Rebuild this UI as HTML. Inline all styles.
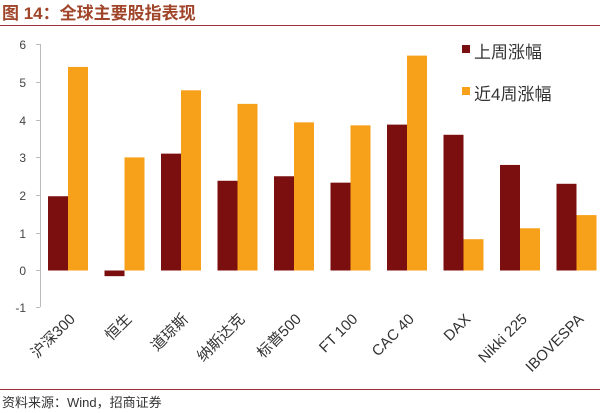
<!DOCTYPE html>
<html><head><meta charset="utf-8"><style>
body{margin:0;background:#fff}
svg{display:block;font-family:"Liberation Sans","Noto Sans CJK SC",sans-serif}
</style></head><body>
<svg width="600" height="413" viewBox="0 0 600 413">
<text x="2" y="19" font-size="17" font-weight="bold" fill="#a0452a">图 14：全球主要股指表现</text>
<line x1="0" y1="25.5" x2="600" y2="25.5" stroke="#a0303a" stroke-width="1"/>
<g font-size="12" fill="#444" text-anchor="end">
<text x="26" y="49">6</text><text x="26" y="87">5</text><text x="26" y="125">4</text>
<text x="26" y="162">3</text><text x="26" y="200">2</text><text x="26" y="238">1</text>
<text x="26" y="275">0</text><text x="26" y="312">-1</text>
</g>
<g stroke="#bbb" stroke-width="1">
<line x1="40.5" y1="44" x2="40.5" y2="307"/>
<line x1="36" y1="44.5" x2="40" y2="44.5"/><line x1="36" y1="82.5" x2="40" y2="82.5"/>
<line x1="36" y1="120.5" x2="40" y2="120.5"/><line x1="36" y1="157.5" x2="40" y2="157.5"/>
<line x1="36" y1="195.5" x2="40" y2="195.5"/><line x1="36" y1="233.5" x2="40" y2="233.5"/>
<line x1="36" y1="270.5" x2="40" y2="270.5"/><line x1="36" y1="307.5" x2="40" y2="307.5"/>
</g>
<g id="bars"></g>
<g id="labels" font-size="15" fill="#333"></g>
<rect x="462" y="45" width="8" height="8" fill="#7b0f0f"/>
<text x="474" y="58" font-size="17" fill="#333">上周涨幅</text>
<rect x="462" y="87" width="8" height="8" fill="#f7a11a"/>
<text x="474" y="100" font-size="17" fill="#333">近4周涨幅</text>
<line x1="0" y1="389.5" x2="600" y2="389.5" stroke="#a0303a" stroke-width="1"/>
<text x="2" y="407" font-size="13" fill="#333">资料来源：Wind，招商证券</text>
</svg>
<script>
var d=[["沪深300",1.97,5.4],["恒生",-0.15,3.0],["道琼斯",3.1,4.78],["纳斯达克",2.38,4.42],["标普500",2.5,3.93],["FT 100",2.33,3.85],["CAC 40",3.87,5.7],["DAX",3.6,0.83],["Nikki 225",2.8,1.12],["IBOVESPA",2.3,1.47]];
var ns="http://www.w3.org/2000/svg",b=document.getElementById("bars"),l=document.getElementById("labels");
function y(v){return 270.5-v*37.7}
d.forEach(function(r,i){var c=68+56.5*i;
[[r[1],c-20,"#7b0f0f"],[r[2],c,"#f7a11a"]].forEach(function(s){var e=document.createElementNS(ns,"rect");
var y0=Math.min(y(0),y(s[0])),h=Math.abs(y(s[0])-y(0));e.setAttribute("x",s[1]);e.setAttribute("y",y0);e.setAttribute("width",20);e.setAttribute("height",h);e.setAttribute("fill",s[2]);b.appendChild(e);});
var t=document.createElementNS(ns,"text");t.setAttribute("text-anchor","end");t.setAttribute("transform","translate("+(c+8)+",320) rotate(-45)");t.textContent=r[0];l.appendChild(t);});
</script>
</body></html>
